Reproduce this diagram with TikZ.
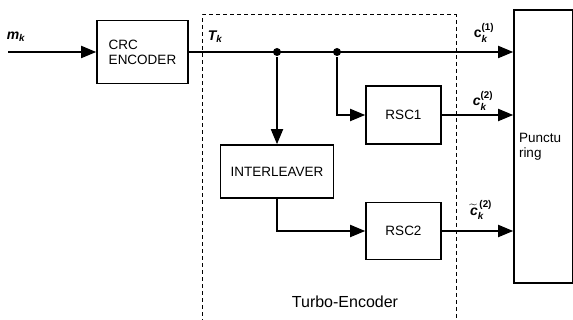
\documentclass[tikz,border=0pt]{standalone}
\usepackage{fontspec}
\setmainfont{Liberation Sans}
\usepackage{amsmath}
\usetikzlibrary{positioning,arrows.meta}

\begin{document}
\begin{tikzpicture}[x=1pt,y=-1pt,
    line width=1.8pt,
    >={Triangle[length=15pt,width=12pt]},
    box/.style={draw,line width=1.6pt,minimum width=75pt,minimum height=58pt,
                inner sep=0pt,font=\fontsize{13.5}{15}\selectfont,align=center},
    lbl/.style={font=\fontsize{14}{16}\selectfont\bfseries\itshape,inner sep=0pt},
    tap/.style={circle,fill,inner sep=0pt,minimum size=8pt}]
  \useasboundingbox (0,0) rectangle (573,320);
  % blocks
  \node[box,minimum width=91pt,minimum height=63pt,align=left] (crc) at (142.5,52) {CRC\\ENCODER};
  \node[box,minimum width=59pt,minimum height=273pt,text width=49pt,inner xsep=5pt,align=left] (punct) at (543.5,146.5) {Punctu\\ring};
  \node[box] (rscone) at (403.5,115) {RSC1};
  \node[box,minimum width=113pt,minimum height=53pt] (interleaver) at (277,171.5) {INTERLEAVER};
  \node[box,minimum height=57pt] (rsctwo) at (403.5,231) {RSC2};
  % turbo encoder frame
  \coordinate (frametl) at (202,15);
  \coordinate (frametr) at (456,15);
  \draw[line width=1pt,dash pattern=on 4pt off 3pt] (frametl |- 0,330) -- (frametl) -- (frametr) -- (frametr |- 0,330);
  \node[font=\fontsize{16}{18}\selectfont] (turbo) at (345,302) {Turbo-Encoder};
  % signal paths
  \coordinate (input) at (8,52);
  \node[tap] (tapone) at (277,52) {};
  \node[tap] (taptwo) at (337,52) {};
  \draw[->] (input) -- (crc.west |- input);
  \draw[->] (crc.east |- input) -- (punct.west |- input);
  \draw[->] (tapone) -- (tapone |- interleaver.north);
  \draw[->] (taptwo) |- (rscone.west);
  \draw[->] (interleaver.south) |- (rsctwo.west);
  \draw[->] (rscone.east) -- (rscone.east -| punct.west);
  \draw[->] (rsctwo.east) -- (rsctwo.east -| punct.west);
  % labels
  \node[lbl] (mk) at (16,37) {$\textit{m}_{\textit{k}}$};
  \node[lbl] (tk) at (215,37) {$\textit{T}_{\textit{k}}$};
  \node[lbl] (cone) at (484,33) {$\textup{c}^{\textup{(1)}}_{\textit{k}}$};
  \node[lbl] (ctwo) at (483,101) {$\textit{c}^{\textup{(2)}}_{\textit{k}}$};
  \node[lbl] (ctilde) at (481,210) {$\widetilde{\textit{c}}^{\,\textup{(2)}}_{\textit{k}}$};
\end{tikzpicture}
\end{document}
